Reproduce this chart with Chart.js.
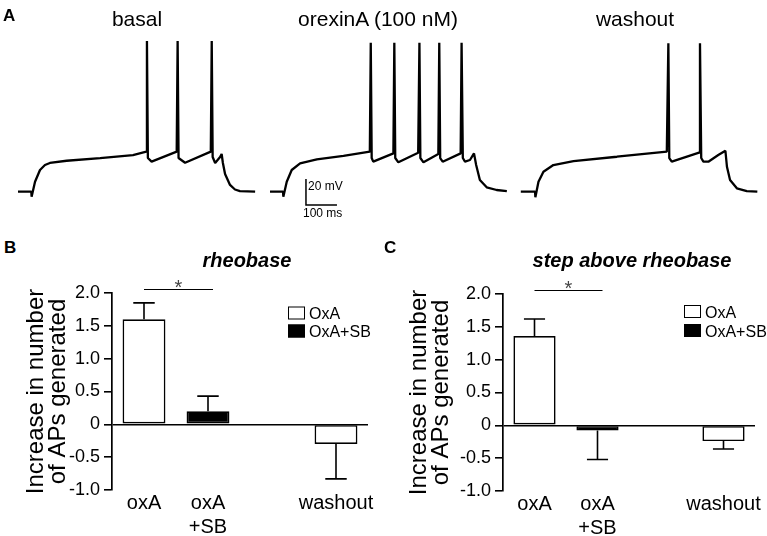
<!DOCTYPE html>
<html>
<head>
<meta charset="utf-8">
<script src="https://cdn.jsdelivr.net/npm/chart.js@4.4.1/dist/chart.umd.min.js"></script>
<style>
  body { margin: 0; background: #fff; }
  #page { position: relative; width: 767px; height: 536px; overflow: hidden; font-family: "Liberation Sans", Arial, sans-serif; color: #000; }
  #page canvas { position: absolute; }
  .txt { position: absolute; white-space: nowrap; line-height: 1; }
  .panel { font-weight: bold; font-size: 17px; }
  .ttl { font-size: 21px; transform: translateX(-50%); }
  .sub { font-size: 20px; font-weight: bold; font-style: italic; transform: translateX(-50%); }
  .scale { font-size: 12px; }
</style>
</head>
<body>
<div id="page">
  <canvas id="traces" width="767" height="230" style="left:0;top:0"></canvas>
  <canvas id="rheo" width="382" height="266" style="left:0;top:270px"></canvas>
  <canvas id="step" width="384" height="266" style="left:383px;top:270px"></canvas>

  <div class="txt panel" style="left:3px;top:7px">A</div>
  <div class="txt ttl" style="left:137px;top:8px">basal</div>
  <div class="txt ttl" style="left:378px;top:8px">orexinA (100 nM)</div>
  <div class="txt ttl" style="left:635px;top:8px">washout</div>
  <div class="txt scale" style="left:308px;top:180px">20 mV</div>
  <div class="txt scale" style="left:303px;top:207px">100 ms</div>

  <div class="txt panel" style="left:4px;top:239px">B</div>
  <div class="txt sub" style="left:247px;top:250px">rheobase</div>
  <div class="txt panel" style="left:384px;top:239px">C</div>
  <div class="txt sub" style="left:632px;top:250px">step above rheobase</div>
</div>

<script>
// ---- panel A: membrane potential, ms from sweep start / mV ----
const basalT = [0, 43, 44, 55, 71, 87, 103, 157, 265, 371, 414, 416, 419, 431, 512, 515, 518, 539, 622, 625, 628, 636, 652, 657, 661, 668, 684, 700, 716, 765];
const basalV = [-70, -70, -73.8, -62.3, -53.3, -49.5, -47.9, -46.2, -44.1, -41.8, -39.2, 45.9, -44.1, -46.9, -39.2, 45.9, -44.1, -47.7, -39.2, 45.9, -43.3, -47.9, -43.3, -41, -47.9, -56.4, -64.8, -68.3, -69.5, -70];

const orexinT = [0, 42, 43, 54, 70, 97, 151, 237, 322, 325, 328, 333, 398, 401, 404, 414, 478, 482, 485, 495, 543, 546, 549, 557, 615, 618, 622, 629, 645, 658, 665, 677, 699, 731, 764];
const orexinV = [-70, -70, -73.8, -62.3, -53.3, -48.2, -45.1, -42.5, -39.2, 44.6, -44.1, -46.9, -40.5, 44.6, -44.1, -47.4, -40, 44.6, -44.1, -47.4, -41, 44.6, -44.1, -46.9, -40.5, 44.6, -44.1, -46.9, -45.6, -40.5, -49.5, -61, -66.6, -68.7, -69.5];

const washT = [0, 46, 47, 57, 73, 105, 170, 310, 471, 476, 479, 487, 575, 578, 582, 589, 605, 637, 660, 665, 675, 697, 729, 763];
const washV = [-70, -70, -74.3, -62.3, -54.6, -49.5, -46.4, -43.1, -39.2, 44.2, -44.1, -46.9, -40, 44.2, -44.1, -46.9, -46.9, -41.8, -38.5, -50.8, -61, -67.4, -69.5, -70];

// 20 mV / 100 ms scale bar
const scaleBarT = [987, 987, 1087];
const scaleBarV = [-60.2, -80.2, -80.2];

// ---- panels B and C ----
const groups = ['oxA', ['oxA', '+SB'], '', 'washout'];
const seriesNames = ['OxA', 'OxA+SB'];
const yTicks = [-1, -0.5, 0, 0.5, 1, 1.5, 2];
const sigLevel = 2.06;

const rheoOxA = [1.6, null, null, -0.3];
const rheoOxASB = [null, 0.2, null, null];
const rheoSemOxA = [0.25, null, null, 0.53];
const rheoSemOxASB = [null, 0.23, null, null];

const stepOxA = [1.36, null, null, -0.24];
const stepOxASB = [null, -0.08, null, null];
const stepSemOxA = [0.26, null, null, 0.12];
const stepSemOxASB = [null, 0.44, null, null];

const family = '"Liberation Sans", Arial, sans-serif';

// ---- panel A chart ----
const sweepStart = [58, 871, 1680]; // where each sweep sits on the shared time axis

function sweep(t, v, t0) {
    return t.map((ti, i) => ({ x: ti + t0, y: v[i] }));
}

new Chart(document.getElementById('traces'), {
    type: 'scatter',
    data: {
        datasets: [
            { data: sweep(basalT, basalV, sweepStart[0]), showLine: true },
            { data: sweep(orexinT, orexinV, sweepStart[1]), showLine: true },
            { data: sweep(washT, washV, sweepStart[2]), showLine: true },
            { data: sweep(scaleBarT, scaleBarV, 0), showLine: true, borderWidth: 1.5, borderJoinStyle: 'miter' }
        ]
    },
    options: {
        responsive: false,
        animation: false,
        devicePixelRatio: 1,
        layout: { padding: 0 },
        elements: {
            point: { radius: 0, hoverRadius: 0 },
            line: { tension: 0, borderColor: '#000', borderWidth: 2.3, borderJoinStyle: 'bevel' }
        },
        plugins: { legend: { display: false }, tooltip: { enabled: false } },
        scales: {
            x: { type: 'linear', display: false, min: 0, max: 767 / 0.31 },
            y: { display: false, min: -99.46, max: 77.46 }
        }
    }
});

// error bars, significance bar and legend for the bar panels
const barExtras = {
    id: 'barExtras',
    afterDatasetsDraw(chart, args, opts) {
        const ctx = chart.ctx;
        const x = chart.scales.x, y = chart.scales.y;
        ctx.save();
        ctx.strokeStyle = '#000';
        ctx.lineWidth = 1.6;

        chart.data.datasets.forEach((ds, di) => {
            const meta = chart.getDatasetMeta(di);
            ds.sem.forEach((sem, i) => {
                const v = ds.data[i];
                if (sem == null || v == null) return;
                const end = v + (v < 0 ? -sem : sem);
                const bar = meta.data[i];
                const half = bar.width / 4;
                const y0 = y.getPixelForValue(v), y1 = y.getPixelForValue(end);
                ctx.beginPath();
                ctx.moveTo(bar.x, y0);
                ctx.lineTo(bar.x, y1);
                ctx.moveTo(bar.x - half, y1);
                ctx.lineTo(bar.x + half, y1);
                ctx.stroke();
            });
        });

        // * between oxA and oxA+SB
        const sy = Math.round(y.getPixelForValue(opts.sigLevel)) + 0.5;
        const sx0 = x.getPixelForValue(0), sx1 = x.getPixelForValue(1) + 5;
        ctx.lineWidth = 1;
        ctx.beginPath();
        ctx.moveTo(sx0, sy);
        ctx.lineTo(sx1, sy);
        ctx.stroke();
        ctx.fillStyle = '#444';
        ctx.font = '20px ' + family;
        ctx.textAlign = 'center';
        ctx.textBaseline = 'alphabetic';
        ctx.fillText('*', (sx0 + sx1) / 2, sy + 4.5);

        // legend
        const lg = opts.legend;
        chart.data.datasets.forEach((ds, di) => {
            const by = lg.y + di * lg.step;
            ctx.fillStyle = ds.backgroundColor;
            ctx.fillRect(lg.x, by, 17, 13);
            ctx.lineWidth = 1;
            ctx.strokeRect(lg.x + 0.5, by + 0.5, 16, 12);
            ctx.fillStyle = '#000';
            ctx.font = '16px ' + family;
            ctx.textAlign = 'left';
            ctx.fillText(ds.label, lg.x + 21, by + 12.5);
        });
        ctx.restore();
    }
};

function barChart(id, oxA, oxASB, semOxA, semOxASB, lay) {
    return new Chart(document.getElementById(id), {
        type: 'bar',
        data: {
            labels: groups,
            datasets: [
                { label: seriesNames[0], data: oxA, sem: semOxA, backgroundColor: '#fff' },
                { label: seriesNames[1], data: oxASB, sem: semOxASB, backgroundColor: '#000' }
            ]
        },
        options: {
            responsive: false,
            animation: false,
            devicePixelRatio: 1,
            layout: { padding: { top: lay.top, right: lay.right, left: 0, bottom: 0 } },
            datasets: {
                bar: { barPercentage: 0.67, categoryPercentage: 1, borderColor: '#000', borderWidth: 1.7, borderSkipped: false }
            },
            plugins: {
                legend: { display: false },
                tooltip: { enabled: false },
                barExtras: { sigLevel: sigLevel, legend: lay.legend }
            },
            scales: {
                x: {
                    stacked: true,
                    grid: { display: false, drawTicks: false },
                    border: { display: false },
                    ticks: { color: '#000', font: { size: 20, family: family, lineHeight: 1.2 }, padding: 1, maxRotation: 0, autoSkip: false },
                    afterFit: s => { s.height = lay.xH; }
                },
                y: {
                    stacked: true,
                    min: -1,
                    max: 2,
                    afterBuildTicks: s => { s.ticks = yTicks.map(v => ({ value: v })); },
                    ticks: {
                        color: '#000',
                        font: { size: 18, family: family },
                        padding: 4,
                        callback: v => (v === 0 ? '0' : v.toFixed(1))
                    },
                    grid: {
                        color: c => (c.tick && c.tick.value === 0 ? '#000' : 'rgba(0,0,0,0)'),
                        lineWidth: 1.6,
                        tickColor: '#000',
                        tickLength: 8,
                        tickWidth: 1.6
                    },
                    border: { display: true, color: '#000', width: 1.7 },
                    title: {
                        display: true,
                        text: ['Increase in number', 'of APs generated'],
                        color: '#000',
                        font: { size: 24, family: family, lineHeight: 0.92 },
                        padding: { top: 25, bottom: 0 }
                    },
                    afterFit: s => { s.width = lay.yW; }
                }
            }
        },
        plugins: [barExtras]
    });
}

barChart('rheo', rheoOxA, rheoOxASB, rheoSemOxA, rheoSemOxASB,
    { top: 23, right: 14, yW: 112, xH: 46, legend: { x: 288, y: 36.5, step: 18 } });
barChart('step', stepOxA, stepOxASB, stepSemOxA, stepSemOxASB,
    { top: 24, right: 12, yW: 120, xH: 45, legend: { x: 301, y: 35, step: 19 } });
</script>
</body>
</html>
